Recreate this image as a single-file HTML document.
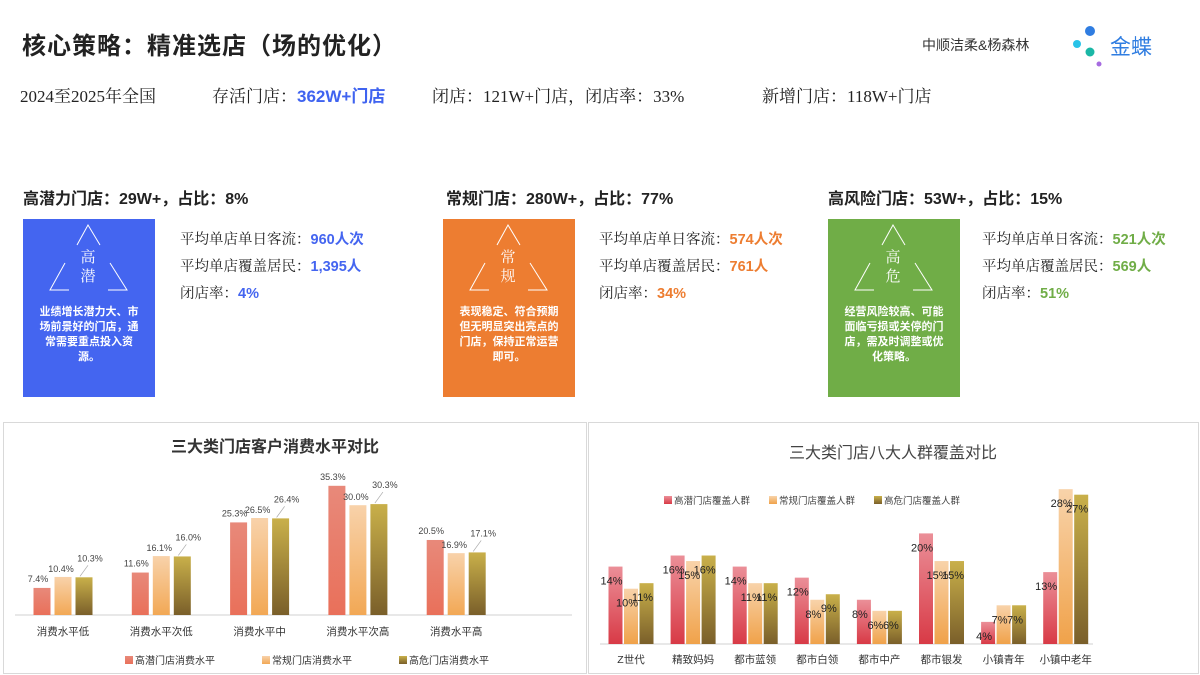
<!DOCTYPE html>
<html><head><meta charset="utf-8">
<style>
body{margin:0;width:1200px;height:675px;background:#fff;font-family:"Liberation Serif","Noto Serif CJK SC",serif;position:relative;overflow:hidden;color:#222}
.abs{position:absolute}
.sans{font-family:"Liberation Sans","Noto Sans CJK SC",sans-serif}
.hd{font-weight:bold;font-size:16px;font-family:"Liberation Sans","Noto Sans CJK SC",sans-serif}
.box{position:absolute;top:219px;width:132px;height:178px;color:#fff;text-align:center}
.box .tri{position:absolute;left:0;top:0}
.box .t{position:absolute;left:0;width:130px;top:30px;font-size:15px;line-height:19px}
.box .d{position:absolute;left:16px;width:100px;top:86px;font-size:11px;line-height:15px;font-weight:bold;font-family:"Liberation Sans","Noto Sans CJK SC",sans-serif}
.st{position:absolute;font-size:14.5px;line-height:27px}
.st b{font-family:"Liberation Sans","Noto Sans CJK SC",sans-serif}
.sum{position:absolute;top:82px;font-size:17px}
.panel{position:absolute;border:1px solid #d9d9d9;background:#fff}
</style></head><body>
<div class="abs sans" style="left:22px;top:26px;font-size:24px;font-weight:bold;letter-spacing:1px">核心策略：精准选店（场的优化）</div>
<div class="abs sans" style="left:922px;top:35px;font-size:14px;color:#333">中顺洁柔&amp;杨森林</div>
<svg class="abs" style="left:1068px;top:22px" width="40" height="50">
<circle cx="22" cy="9" r="5" fill="#2f7de1"/><circle cx="9" cy="22" r="4" fill="#28c3e8"/><circle cx="22" cy="30" r="4.5" fill="#1ab7a6"/><circle cx="31" cy="42" r="2.5" fill="#a66be0"/></svg>
<div class="abs sans" style="left:1110px;top:31px;font-size:21px;color:#2f7de1">金蝶</div>
<div class="sum" style="left:20px">2024至2025年全国</div>
<div class="sum" style="left:212px">存活门店：<b class="sans" style="color:#3f63f0">362W+门店</b></div>
<div class="sum" style="left:432px">闭店：121W+门店，闭店率：33%</div>
<div class="sum" style="left:762px">新增门店：118W+门店</div>

<div class="abs hd" style="left:23px;top:185px">高潜力门店：29W+，占比：8%</div>
<div class="abs hd" style="left:446px;top:185px">常规门店：280W+，占比：77%</div>
<div class="abs hd" style="left:828px;top:185px">高风险门店：53W+，占比：15%</div>

<div class="box" style="left:23px;background:#4465f0">
<svg class="tri" width="132" height="120"><g stroke="#fff" stroke-width="1" fill="none"><path d="M54 26 L65 6 L77 26 M42 44 L27 71 L46 71 M87 44 L104 71 L85 71"/></g></svg>
<div class="t">高<br>潜</div>
<div class="d">业绩增长潜力大、市场前景好的门店，通常需要重点投入资源。</div></div>
<div class="box" style="left:443px;background:#ed7d31">
<svg class="tri" width="132" height="120"><g stroke="#fff" stroke-width="1" fill="none"><path d="M54 26 L65 6 L77 26 M42 44 L27 71 L46 71 M87 44 L104 71 L85 71"/></g></svg>
<div class="t">常<br>规</div>
<div class="d">表现稳定、符合预期但无明显突出亮点的门店，保持正常运营即可。</div></div>
<div class="box" style="left:828px;background:#70ad47">
<svg class="tri" width="132" height="120"><g stroke="#fff" stroke-width="1" fill="none"><path d="M54 26 L65 6 L77 26 M42 44 L27 71 L46 71 M87 44 L104 71 L85 71"/></g></svg>
<div class="t">高<br>危</div>
<div class="d">经营风险较高、可能面临亏损或关停的门店，需及时调整或优化策略。</div></div>

<div class="st" style="left:180px;top:227px">平均单店单日客流：<b style="color:#4465f0">960人次</b><br>平均单店覆盖居民：<b style="color:#4465f0">1,395人</b><br>闭店率：<b style="color:#4465f0">4%</b></div>
<div class="st" style="left:599px;top:227px">平均单店单日客流：<b style="color:#ed7d31">574人次</b><br>平均单店覆盖居民：<b style="color:#ed7d31">761人</b><br>闭店率：<b style="color:#ed7d31">34%</b></div>
<div class="st" style="left:982px;top:227px">平均单店单日客流：<b style="color:#70ad47">521人次</b><br>平均单店覆盖居民：<b style="color:#70ad47">569人</b><br>闭店率：<b style="color:#70ad47">51%</b></div>

<div class="panel" style="left:3px;top:422px;width:582px;height:250px"></div>
<div class="panel" style="left:588px;top:422px;width:609px;height:250px"></div>
<svg id="c" class="abs" style="left:0;top:0" width="1200" height="675">
<defs>
<linearGradient id="g1" x1="0" y1="0" x2="0" y2="1"><stop offset="0" stop-color="#e8897a"/><stop offset="1" stop-color="#e9705a"/></linearGradient>
<linearGradient id="g2" x1="0" y1="0" x2="0" y2="1"><stop offset="0" stop-color="#f8d2aa"/><stop offset="1" stop-color="#f2a855"/></linearGradient>
<linearGradient id="g3" x1="0" y1="0" x2="0" y2="1"><stop offset="0" stop-color="#c9b04a"/><stop offset="1" stop-color="#7a5f2a"/></linearGradient>
<linearGradient id="h1" x1="0" y1="0" x2="0" y2="1"><stop offset="0" stop-color="#eb8f98"/><stop offset="1" stop-color="#d83a46"/></linearGradient>
<linearGradient id="h2" x1="0" y1="0" x2="0" y2="1"><stop offset="0" stop-color="#f8d3aa"/><stop offset="1" stop-color="#f0a24a"/></linearGradient>
<linearGradient id="h3" x1="0" y1="0" x2="0" y2="1"><stop offset="0" stop-color="#c9b04a"/><stop offset="1" stop-color="#7a5f2a"/></linearGradient>
</defs>
</svg>
<script>
const cat1=["消费水平低","消费水平次低","消费水平中","消费水平次高","消费水平高"];
const s1a=[7.4,11.6,25.3,35.3,20.5];
const s1b=[10.4,16.1,26.5,30.0,16.9];
const s1c=[10.3,16.0,26.4,30.3,17.1];
const leg1=["高潜门店消费水平","常规门店消费水平","高危门店消费水平"];
const cat2=["Z世代","精致妈妈","都市蓝领","都市白领","都市中产","都市银发","小镇青年","小镇中老年"];
const s2a=[14,16,14,12,8,20,4,13];
const s2b=[10,15,11,8,6,15,7,28];
const s2c=[11,16,11,9,6,15,7,27];
const leg2=["高潜门店覆盖人群","常规门店覆盖人群","高危门店覆盖人群"];
const svg=document.getElementById('c');const NS='http://www.w3.org/2000/svg';
function mk(t,a,txt){const e=document.createElementNS(NS,t);for(const k in a)e.setAttribute(k,a[k]);if(txt!=null)e.textContent=txt;svg.appendChild(e);return e;}
const F='"Liberation Sans","Noto Sans CJK SC",sans-serif';
// chart 1
const x1=i=>63+i*98.3, y1=v=>615-v*3.66;
let e=mk('text',{x:275,y:452,'text-anchor':'middle','font-size':16,'font-weight':'bold','font-family':F,fill:'#333'},'三大类门店客户消费水平对比');


e=mk('line',{x1:15,x2:572,y1:615,y2:615,stroke:'#d0d0d0'});


[s1a,s1b,s1c].forEach((s,k)=>{s.forEach((v,i)=>{const cx=x1(i)+(k-1)*21;
 const r=mk('rect',{x:cx-8.5,y:y1(v),width:17,height:615-y1(v),fill:'url(#g'+(k+1)+')'});
 
 
 const dy=k==1?-5:(k==2?-16:-6);
 const t=mk('text',{x:cx+(k==2?6:(k==0?-4:-2)),y:y1(v)+dy,'text-anchor':'middle','font-size':9,'font-family':F,fill:'#444'},v.toFixed(1)+'%');
 
 
 if(k==2){mk('line',{x1:cx-4,y1:y1(v)-1,x2:cx+4,y2:y1(v)-12,stroke:'#aaa','stroke-width':0.7});}
});});
cat1.forEach((c,i)=>{const t=mk('text',{x:x1(i),y:635,'text-anchor':'middle','font-size':10.5,'font-family':F,fill:'#333'},c);
 
 });
leg1.forEach((l,k)=>{const lx=125+k*137;
 const r=mk('rect',{x:lx,y:656,width:8,height:8,fill:'url(#g'+(k+1)+')'});
 
 
 const t=mk('text',{x:lx+10,y:664,'font-size':10,'font-family':F,fill:'#333'},l);
 
 });
// chart 2
const x2=i=>631+i*62.1, y2=v=>644-v*5.53;
e=mk('text',{x:893,y:458,'text-anchor':'middle','font-size':16,'font-family':F,fill:'#444'},'三大类门店八大人群覆盖对比');


e=mk('line',{x1:600,x2:1093,y1:644,y2:644,stroke:'#d0d0d0'});


[s2a,s2b,s2c].forEach((s,k)=>{s.forEach((v,i)=>{const cx=x2(i)+(k-1)*15.5;
 const r=mk('rect',{x:cx-7,y:y2(v),width:14,height:644-y2(v),fill:'url(#h'+(k+1)+')'});
 
 
 const t=mk('text',{x:cx-4,y:y2(v)+18,'text-anchor':'middle','font-size':11,'font-family':F,fill:'#222'},v+'%');
 
 
});});
cat2.forEach((c,i)=>{const t=mk('text',{x:x2(i),y:663,'text-anchor':'middle','font-size':10.5,'font-family':F,fill:'#333'},c);
 
 });
leg2.forEach((l,k)=>{const lx=664+k*105;
 const r=mk('rect',{x:lx,y:496,width:8,height:8,fill:'url(#h'+(k+1)+')'});
 
 
 const t=mk('text',{x:lx+10,y:504,'font-size':9.5,'font-family':F,fill:'#444'},l);
 
 });
</script>
</body></html>
